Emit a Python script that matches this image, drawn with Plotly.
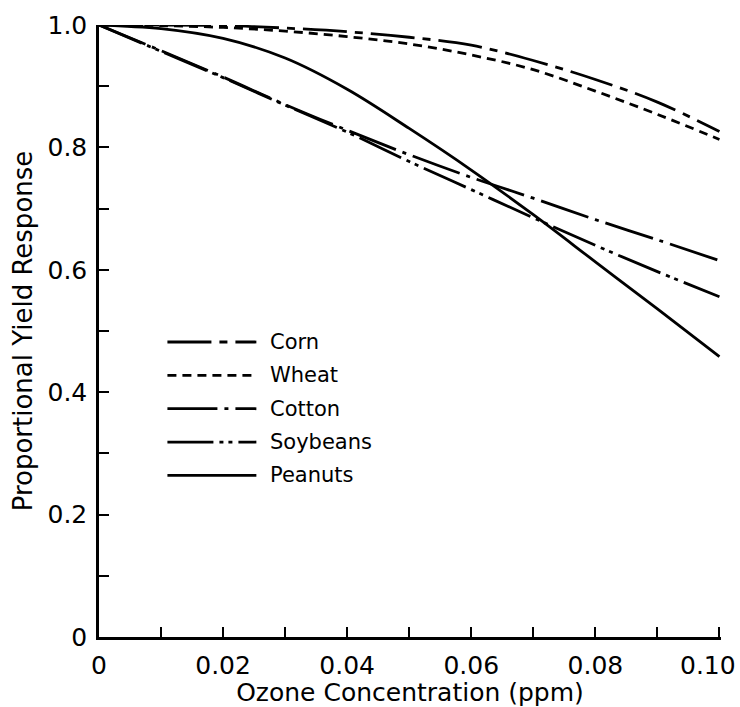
import plotly.graph_objects as go

# Ozone concentration (ppm) at which each yield curve is sampled
ozone_ppm = [0.0, 0.01, 0.02, 0.03, 0.04, 0.05, 0.06, 0.07, 0.08, 0.09, 0.10]

# Proportional yield response per crop
corn = [1.000, 1.000, 0.999, 0.995, 0.989, 0.980, 0.967, 0.942, 0.911, 0.874, 0.826]
wheat = [1.000, 0.999, 0.996, 0.990, 0.981, 0.969, 0.951, 0.927, 0.892, 0.854, 0.813]
cotton = [1.000, 0.958, 0.915, 0.870, 0.828, 0.788, 0.751, 0.717, 0.682, 0.649, 0.615]
soybeans = [1.000, 0.957, 0.914, 0.869, 0.825, 0.777, 0.731, 0.685, 0.640, 0.597, 0.556]
peanuts = [1.000, 0.994, 0.978, 0.946, 0.895, 0.831, 0.763, 0.690, 0.613, 0.536, 0.458]

crop_names = ["Corn", "Wheat", "Cotton", "Soybeans", "Peanuts"]

# Tick positions and labels
x_tick_vals = [0.0, 0.01, 0.02, 0.03, 0.04, 0.05, 0.06, 0.07, 0.08, 0.09, 0.10]
x_tick_text = ["0", "", "0.02", "", "0.04", "", "0.06", "", "0.08", "", "0.10"]
y_tick_vals = [0.0, 0.1, 0.2, 0.3, 0.4, 0.5, 0.6, 0.7, 0.8, 0.9, 1.0]
y_tick_text = ["0", "", "0.2", "", "0.4", "", "0.6", "", "0.8", "", "1.0"]

FONT = "DejaVu Sans"
INK = "black"
LINE_W = 2.8
TICK_FONT = dict(family=FONT, size=25, color=INK)

# Dash pattern for each crop's curve
dashes = {
    "Corn": "44px,8px,8px,8px",
    "Wheat": "9px,6px",
    "Cotton": "50px,7px,4px,7px",
    "Soybeans": "46px,6px,4px,5px,4px,6px",
    "Peanuts": "solid",
}

series = {
    "Corn": corn,
    "Wheat": wheat,
    "Cotton": cotton,
    "Soybeans": soybeans,
    "Peanuts": peanuts,
}

fig = go.Figure()
for name in crop_names:
    fig.add_trace(
        go.Scatter(
            x=ozone_ppm,
            y=series[name],
            mode="lines",
            name=name,
            line=dict(color=INK, width=LINE_W, dash=dashes[name], shape="spline", smoothing=1.0),
            showlegend=False,
        )
    )

# Hand-drawn key inside the plot area (paper coordinates)
KEY_X0, KEY_X1, KEY_TEXT_X = 0.110, 0.253, 0.271
KEY_Y_TOP, KEY_STEP = 0.482, 0.0545
for i, name in enumerate(crop_names):
    yk = KEY_Y_TOP - i * KEY_STEP
    fig.add_shape(
        type="line", xref="paper", yref="paper",
        x0=KEY_X0, x1=KEY_X1, y0=yk, y1=yk,
        line=dict(color=INK, width=LINE_W, dash=dashes[name]),
    )
    fig.add_annotation(
        xref="paper", yref="paper", x=KEY_TEXT_X, y=yk,
        text=name, showarrow=False, xanchor="left", yanchor="middle",
        font=dict(family=FONT, size=21, color=INK),
    )

# The last x label sits at the right edge of the page, so it is right-aligned
# beside its tick instead of centred on it.
axis_x_labels = x_tick_text[:-1] + [""]
fig.add_annotation(
    xref="x", yref="paper", x=x_tick_vals[-1], y=0,
    text=x_tick_text[-1], showarrow=False,
    xanchor="right", yanchor="middle", xshift=19, yshift=-28,
    font=TICK_FONT,
)

axis_common = dict(
    showline=True, linecolor=INK, linewidth=2.5,
    showgrid=False, zeroline=False,
    ticks="inside", ticklen=10, tickwidth=2, tickcolor=INK,
    tickfont=TICK_FONT,
    automargin=False, mirror=False,
)

fig.update_xaxes(
    range=[0, 0.10025], tickmode="array", tickvals=x_tick_vals, ticktext=axis_x_labels,
    title=dict(text="Ozone Concentration (ppm)", font=dict(family=FONT, size=25, color=INK), standoff=2),
    ticklabelstandoff=4,
    **axis_common,
)
fig.update_yaxes(
    range=[0, 1.0 + 1e-6], tickmode="array", tickvals=y_tick_vals, ticktext=y_tick_text,
    title=dict(text="Proportional Yield Response", font=dict(family=FONT, size=26, color=INK), standoff=8),
    ticklabelstandoff=4,
    **axis_common,
)

fig.update_layout(
    width=740, height=707,
    margin=dict(l=99, r=19, t=25, b=70),
    paper_bgcolor="white", plot_bgcolor="white",
    font=dict(family=FONT, color=INK),
)

fig.write_html("out.html")
